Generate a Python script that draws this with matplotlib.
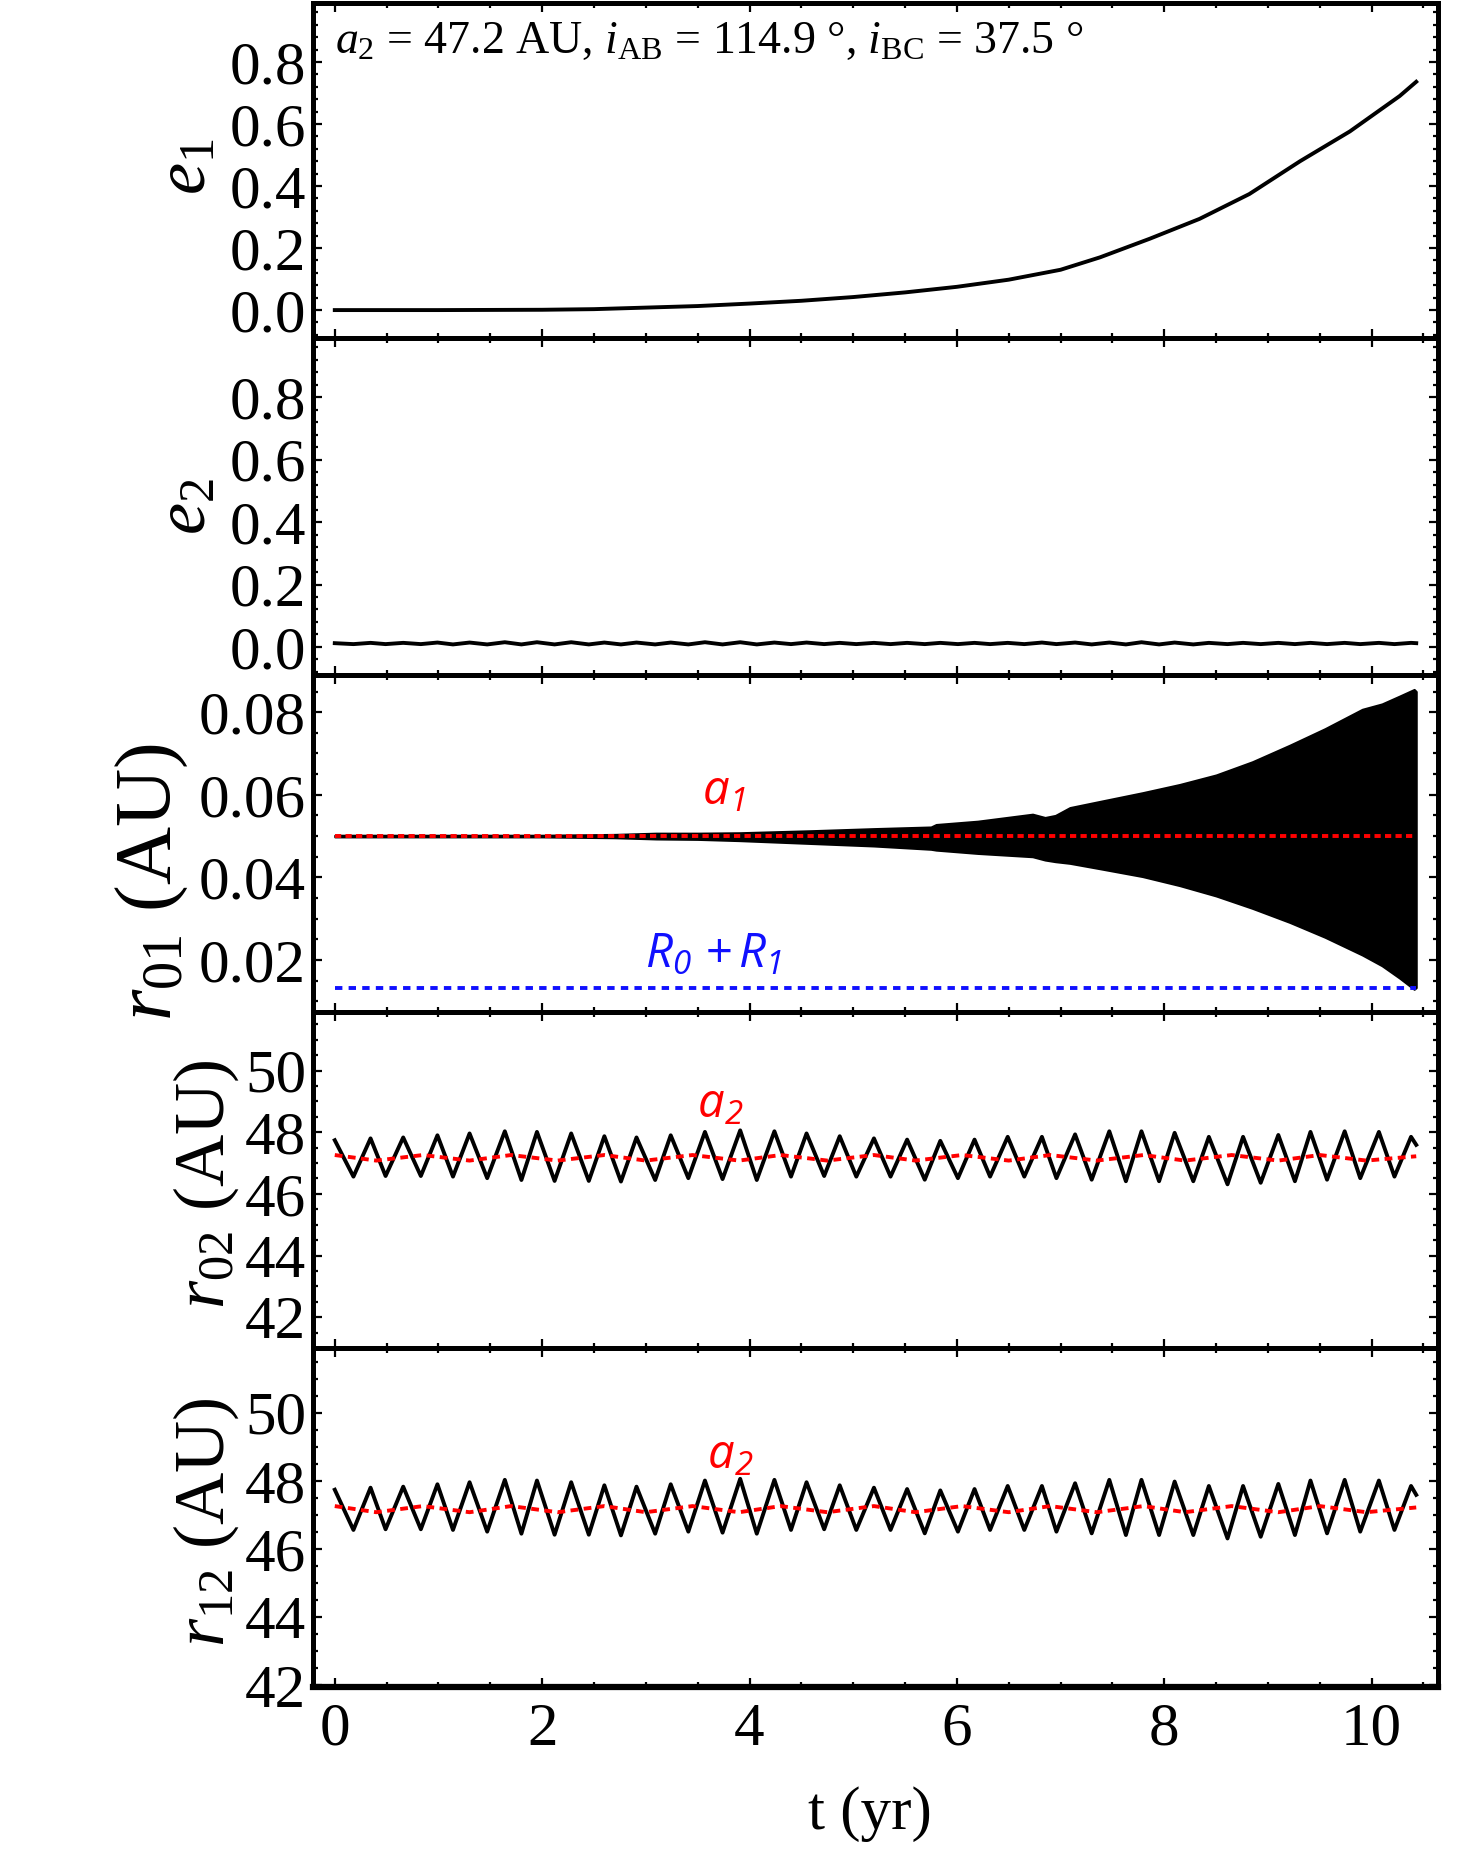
import matplotlib.pyplot as plt
from matplotlib.ticker import MultipleLocator, FormatStrFormatter

plt.rcParams['font.family'] = ['Liberation Serif', 'DejaVu Serif']
plt.rcParams['mathtext.fontset'] = 'custom'
plt.rcParams['mathtext.rm'] = 'Liberation Serif'
plt.rcParams['mathtext.it'] = 'Liberation Serif:italic'
plt.rcParams['mathtext.sf'] = 'Open Sans:italic'

# ---- data ----
# e1 (slow secular growth)
e1_t = [0.0, 1.0, 2.0, 2.5, 3.0, 3.5, 4.0, 4.5, 5.0, 5.5, 6.0, 6.5, 7.0, 7.38,
        7.86, 8.34, 8.82, 9.31, 9.79, 10.27, 10.43]
e1_v = [0.0, 0.0, 0.001, 0.003, 0.008, 0.013, 0.021, 0.030, 0.042, 0.057, 0.075,
        0.098, 0.130, 0.170, 0.230, 0.294, 0.374, 0.480, 0.576, 0.690, 0.736]

# times of the outer-orbit oscillation extrema (troughs / peaks)
trough_t = [0.18, 0.49, 0.83, 1.14, 1.47, 1.80, 2.12, 2.45, 2.76, 3.09, 3.41,
            3.74, 4.07, 4.40, 4.72, 5.03, 5.36, 5.69, 6.01, 6.32, 6.65, 6.96,
            7.30, 7.63, 7.95, 8.28, 8.61, 8.93, 9.26, 9.57, 9.89, 10.22]
peak_t = [0.345, 0.66, 0.99, 1.30, 1.64, 1.95, 2.28, 2.60, 2.91, 3.24, 3.57,
          3.91, 4.24, 4.55, 4.87, 5.20, 5.52, 5.84, 6.17, 6.49, 6.82, 7.14,
          7.47, 7.78, 8.10, 8.43, 8.76, 9.10, 9.41, 9.74, 10.07, 10.38]
t_start, t_end = 0.0, 10.43

# e2
e2_start, e2_end = 0.012, 0.012
e2_trough = [0.009, 0.009, 0.009, 0.008, 0.008, 0.008, 0.008, 0.008, 0.008, 0.008,
             0.008, 0.008, 0.008, 0.009, 0.009, 0.009, 0.009, 0.009, 0.009, 0.009,
             0.009, 0.009, 0.008, 0.008, 0.008, 0.008, 0.009, 0.009, 0.009, 0.009,
             0.009, 0.009]
e2_peak = [0.013, 0.013, 0.014, 0.014, 0.015, 0.015, 0.015, 0.014, 0.014, 0.014,
           0.015, 0.015, 0.014, 0.014, 0.013, 0.013, 0.013, 0.013, 0.013, 0.013,
           0.014, 0.014, 0.014, 0.015, 0.014, 0.013, 0.013, 0.013, 0.013, 0.013,
           0.013, 0.013]

# r01 envelope (fast inner-orbit oscillation shown as filled band)
env_t = [0.0, 1.0, 2.0, 2.7, 3.1, 3.5, 3.9, 4.6, 5.2, 5.75, 5.8, 6.2, 6.73, 6.85,
         6.95, 7.09, 7.4, 7.79, 8.15, 8.5, 8.85, 9.21, 9.55, 9.91, 10.1, 10.27,
         10.41, 10.43]
env_hi = [0.0502, 0.0502, 0.0502, 0.0504, 0.0507, 0.0507, 0.0508, 0.0513, 0.0518,
          0.0522, 0.0528, 0.0536, 0.0553, 0.0545, 0.0550, 0.0569, 0.0585, 0.0605,
          0.0625, 0.0648, 0.0680, 0.0720, 0.0760, 0.0807, 0.0820, 0.0839, 0.0855,
          0.0850]
env_lo = [0.0498, 0.0498, 0.0498, 0.0496, 0.0493, 0.0492, 0.0489, 0.0482, 0.0476,
          0.0468, 0.0466, 0.0458, 0.0450, 0.0442, 0.0438, 0.0434, 0.0420, 0.0402,
          0.0380, 0.0355, 0.0325, 0.0291, 0.0255, 0.0212, 0.0186, 0.0156, 0.0129,
          0.0133]
a1 = 0.05
r_sum = 0.0133

# r02 / r12
r02_start, r02_end = 47.74, 47.59
r02_trough = [46.56, 46.58, 46.58, 46.56, 46.51, 46.45, 46.42, 46.42, 46.40, 46.45,
              46.51, 46.48, 46.45, 46.56, 46.58, 46.56, 46.56, 46.46, 46.51, 46.56,
              46.56, 46.51, 46.46, 46.41, 46.41, 46.41, 46.31, 46.36, 46.41, 46.46,
              46.51, 46.56]
r02_peak = [47.80, 47.83, 47.90, 47.96, 48.03, 48.01, 47.96, 47.87, 47.83, 47.90,
            48.01, 48.06, 48.03, 47.96, 47.87, 47.80, 47.76, 47.72, 47.76, 47.85,
            47.85, 47.93, 48.03, 48.03, 47.98, 47.85, 47.85, 47.91, 48.01, 48.03,
            48.01, 47.85]
r12_start, r12_end = 47.74, 47.59
r12_trough = [46.56, 46.58, 46.58, 46.56, 46.51, 46.45, 46.42, 46.42, 46.40, 46.45,
              46.51, 46.48, 46.45, 46.56, 46.58, 46.56, 46.56, 46.46, 46.51, 46.56,
              46.56, 46.51, 46.46, 46.41, 46.41, 46.41, 46.31, 46.36, 46.41, 46.46,
              46.51, 46.56]
r12_peak = [47.80, 47.83, 47.90, 47.96, 48.03, 48.01, 47.96, 47.87, 47.83, 47.90,
            48.01, 48.06, 48.03, 47.96, 47.87, 47.80, 47.76, 47.72, 47.76, 47.85,
            47.85, 47.93, 48.03, 48.03, 47.98, 47.85, 47.85, 47.91, 48.01, 48.03,
            48.01, 47.85]

# a2 (slightly wobbling)
a2_t = [0.0, 0.4, 0.85, 1.3, 1.7, 2.15, 2.6, 3.0, 3.45, 3.9, 4.3, 4.75, 5.2, 5.6,
        6.05, 6.5, 6.9, 7.35, 7.8, 8.2, 8.65, 9.1, 9.5, 9.95, 10.43]
a2_v = [47.26, 47.08, 47.26, 47.08, 47.26, 47.08, 47.26, 47.08, 47.26, 47.08,
        47.26, 47.08, 47.26, 47.08, 47.26, 47.08, 47.26, 47.08, 47.26, 47.08,
        47.26, 47.08, 47.26, 47.08, 47.22]


def wave(start, troughs, peaks, end):
    ts, vs = [t_start], [start]
    for tt, tv, pt, pv in zip(trough_t, troughs, peak_t, peaks):
        ts += [tt, pt]
        vs += [tv, pv]
    ts.append(t_end)
    vs.append(end)
    return ts, vs


# ---- layout (pixel positions of the panel frames) ----
W, H = 1458, 1875
left, right = 313, 1438
edges = [3, 338, 675, 1012, 1348, 1687]

fig = plt.figure(figsize=(W / 100, H / 100), dpi=100)
axes = []
for i in range(5):
    top, bot = edges[i], edges[i + 1]
    ax = fig.add_axes([left / W, 1 - bot / H, (right - left) / W, (bot - top) / H])
    for sp in ax.spines.values():
        sp.set_linewidth(3.6)
    ax.set_xlim(-0.21, 10.64)
    ax.xaxis.set_major_locator(MultipleLocator(2))
    ax.xaxis.set_minor_locator(MultipleLocator(0.5))
    ax.tick_params(which='both', direction='in', top=True, right=True, width=1.6)
    ax.tick_params(which='major', length=6.5)
    ax.tick_params(which='minor', length=3.6)
    ax.tick_params(axis='y', labelsize=44, pad=5)
    ax.tick_params(axis='x', labelsize=44, pad=11, labelbottom=(i == 4))
    axes.append(ax)

lw = 2.8
red_lw = 2.8

# e1
ax = axes[0]
ax.plot(e1_t, e1_v, color='black', lw=lw)
ax.set_ylim(-0.09, 0.99)
ax.yaxis.set_minor_locator(MultipleLocator(0.04))
ax.yaxis.set_major_formatter(FormatStrFormatter('%.1f'))
ax.set_yticks([0.0, 0.2, 0.4, 0.6, 0.8])
ax.text(0.0, 0.865, r'$a_2$ = 47.2 AU, $i_{\rm AB}$ = 114.9 °, $i_{\rm BC}$ = 37.5 °',
        fontsize=33, va='center', ha='left')

# e2
ax = axes[1]
ts, vs = wave(e2_start, e2_trough, e2_peak, e2_end)
ax.plot(ts, vs, color='black', lw=lw)
ax.set_ylim(-0.09, 0.99)
ax.yaxis.set_minor_locator(MultipleLocator(0.04))
ax.yaxis.set_major_formatter(FormatStrFormatter('%.1f'))
ax.set_yticks([0.0, 0.2, 0.4, 0.6, 0.8])

# r01
ax = axes[2]
ax.fill_between(env_t, env_lo, env_hi, color='black', lw=1.5)
ax.plot([t_start, t_end], [a1, a1], color='red', lw=red_lw, ls=(0, (1.6, 1.1)))
ax.plot([t_start, t_end], [r_sum, r_sum], color='#1010ff', lw=red_lw, ls=(0, (1.9, 1.6)))
ax.set_ylim(0.0074, 0.089)
ax.yaxis.set_minor_locator(MultipleLocator(0.005))
ax.yaxis.set_major_formatter(FormatStrFormatter('%.2f'))
ax.set_yticks([0.02, 0.04, 0.06, 0.08])
ax.text(3.75, 0.0605, r'$\mathsf{a_1}$', color='red', fontsize=34, ha='center', va='center')
ax.text(3.65, 0.0214, r'$\mathsf{R_0\,+R_1}$', color='#1010ff', fontsize=34,
        ha='center', va='center')

# r02
ax = axes[3]
ts, vs = wave(r02_start, r02_trough, r02_peak, r02_end)
ax.plot(ts, vs, color='black', lw=lw, solid_joinstyle='round')
ax.plot(a2_t, a2_v, color='red', lw=red_lw, ls=(0, (2.0, 1.4)))
ax.set_ylim(41.0, 51.9)
ax.yaxis.set_minor_locator(MultipleLocator(0.5))
ax.yaxis.set_major_formatter(FormatStrFormatter('%d'))
ax.set_yticks([42, 44, 46, 48, 50])
ax.text(3.72, 48.84, r'$\mathsf{a_2}$', color='red', fontsize=34, ha='center', va='center')

# r12
ax = axes[4]
ts, vs = wave(r12_start, r12_trough, r12_peak, r12_end)
ax.plot(ts, vs, color='black', lw=lw, solid_joinstyle='round')
ax.plot(a2_t, a2_v, color='red', lw=red_lw, ls=(0, (2.0, 1.4)))
ax.set_ylim(41.95, 51.9)
ax.yaxis.set_minor_locator(MultipleLocator(0.5))
ax.yaxis.set_major_formatter(FormatStrFormatter('%d'))
ax.set_yticks([42, 44, 46, 48, 50])
ax.text(3.81, 48.71, r'$\mathsf{a_2}$', color='red', fontsize=34, ha='center', va='center')
ax.spines['bottom'].set_linewidth(4.5)

# axis labels
fig.text(188 / W, 1 - 167 / H, r'$e_1$', fontsize=52, rotation=90, ha='center', va='center')
fig.text(188 / W, 1 - 507 / H, r'$e_2$', fontsize=52, rotation=90, ha='center', va='center')
fig.text(152 / W, 1 - 882 / H, r'$r_{01}$ (AU)', fontsize=58, rotation=90, ha='center', va='center')
fig.text(206 / W, 1 - 1184 / H, r'$r_{02}$ (AU)', fontsize=52, rotation=90, ha='center', va='center')
fig.text(206 / W, 1 - 1522 / H, r'$r_{12}$ (AU)', fontsize=52, rotation=90, ha='center', va='center')
fig.text(870 / W, 1 - 1814 / H, 't (yr)', fontsize=44, ha='center', va='center')

fig.savefig('out.png', dpi=100)
